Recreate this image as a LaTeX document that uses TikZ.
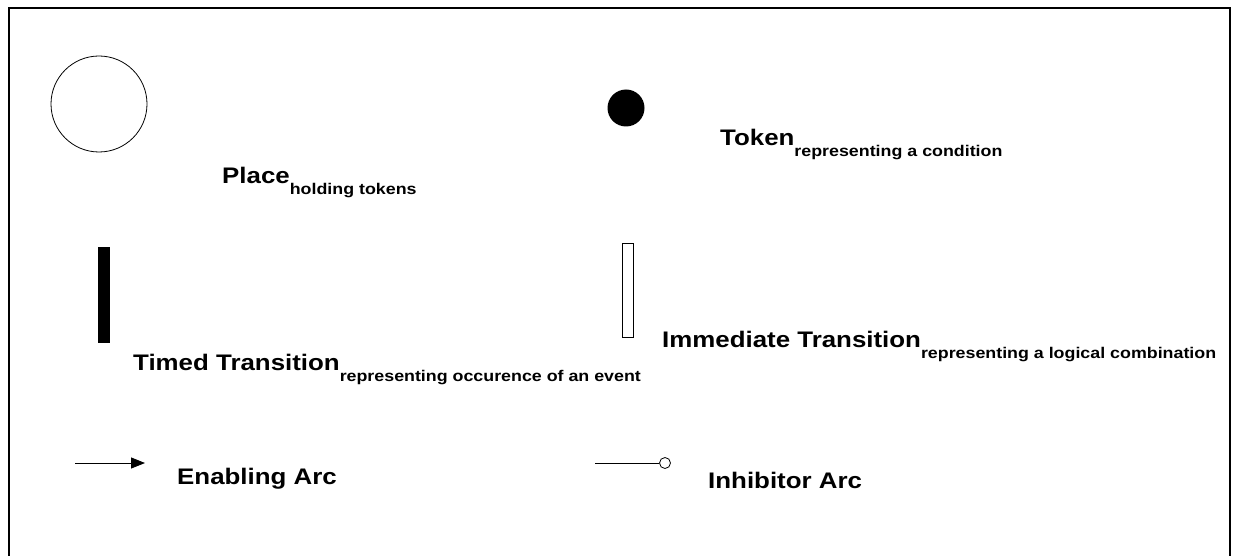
\documentclass[tikz,border=0pt]{standalone}
\usepackage{fontspec}
\newfontfamily\lblfont{Liberation Sans}[FakeStretch=1.15]
\usetikzlibrary{arrows.meta}
\newcommand\petsub[1]{\raisebox{-11pt}{\fontsize{15.5}{18}\selectfont #1}}
\tikzset{
  frameline/.style={line width=2pt, black},
  lbl/.style={font=\lblfont\bfseries\fontsize{22.5}{27}\selectfont, anchor=base west, inner sep=0pt},
  placenode/.style={circle, draw, line width=0.8pt, minimum size=96pt, inner sep=0pt},
  tokennode/.style={circle, fill=black, minimum size=37pt, inner sep=0pt},
  timedtr/.style={rectangle, fill=black, minimum width=12pt, minimum height=96pt, inner sep=0pt},
  immtr/.style={rectangle, draw, line width=0.8pt, fill=white, minimum width=11pt, minimum height=94pt, inner sep=0pt},
  arcline/.style={line width=0.9pt},
}
\begin{document}
\begin{tikzpicture}[x=1pt,y=-1pt]
\useasboundingbox (0,0) rectangle (1233,556);
\fill[white] (0,0) rectangle (1233,556);
% frame (bottom edge lies outside the picture)
\draw[frameline] (8.5,560) -- (8.5,8.5) -- (1229.5,8.5) -- (1229.5,560);

% place
\node[placenode] (place) at (99,104) {};
\node[lbl] (placeL) at (222,183) {Place\petsub{holding tokens}};

% token
\node[tokennode] (token) at (626,108) {};
\node[lbl] (tokenL) at (720,146) {Token\petsub{representing a condition}};

% timed transition
\node[timedtr] (timed) at (104,295) {};
\node[lbl] (timedL) at (133,370) {Timed Transition\petsub{representing occurence of an event}};

% immediate transition
\node[immtr] (imm) at (627.5,290) {};
\node[lbl] (immL) at (662,347) {Immediate Transition\petsub{representing a logical combination}};

% enabling arc
\coordinate (ea1) at (75,463);
\coordinate (ea2) at (145,463);
\draw[arcline, -{Triangle[length=14pt,width=11pt]}] (ea1) -- (ea2);
\node[lbl] (enL) at (177,484) {Enabling Arc};

% inhibitor arc
\coordinate (ia1) at (595,463);
\node[circle, draw, line width=0.8pt, minimum size=11pt, inner sep=0pt] (inhc) at (665,463) {};
\draw[arcline] (ia1) -- (inhc.west);
\node[lbl] (inL) at (708,488) {Inhibitor Arc};
\end{tikzpicture}
\end{document}
